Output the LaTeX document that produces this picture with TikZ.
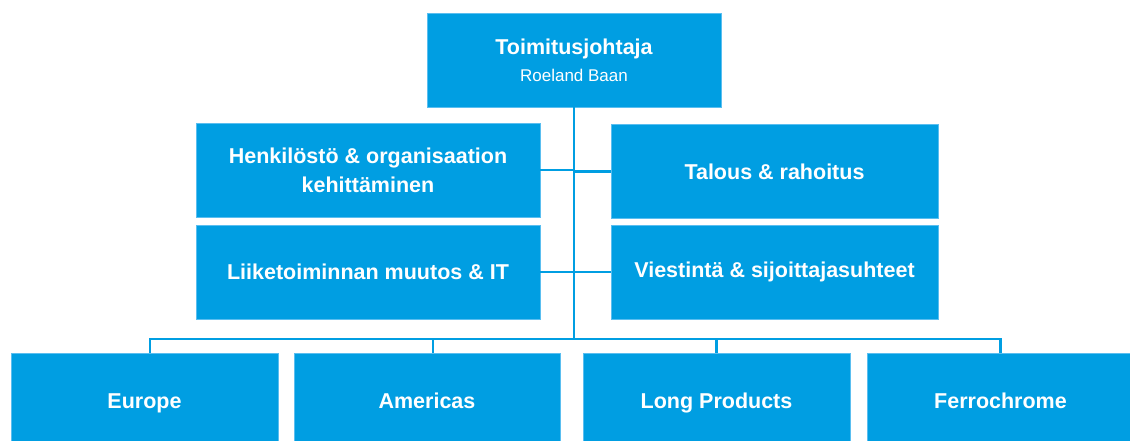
\documentclass[tikz,border=0pt]{standalone}
\usepackage{fontspec}
\setmainfont{Liberation Sans}
\definecolor{ssab}{RGB}{0,158,226}
\definecolor{ssabedge}{RGB}{90,190,240}
\begin{document}
\begin{tikzpicture}[x=1pt,y=-1pt,
  box/.style={fill=ssab, draw=ssabedge, line width=0.8pt, text=white, align=center, inner sep=0pt,
    font=\fontsize{21.5}{29}\selectfont\bfseries},
  unit/.style={box, minimum width=267pt, minimum height=106pt, text height=15pt, text depth=10pt},
  link/.style={draw=ssab, line width=2.8pt}]
\useasboundingbox (0,0) rectangle (1130,440);
\clip (0,0) rectangle (1130,440);
\node[box, minimum width=294pt, minimum height=94pt] (ceo) at (574,60)
  {Toimitusjohtaja\\[-2pt]{\fontsize{17}{22}\selectfont\mdseries Roeland Baan}};
\node[box, minimum width=344pt, minimum height=94pt] (hr) at (368,170)
  {Henkilöstö \& organisaation\\kehittäminen};
\node[box, minimum width=344pt, minimum height=94pt] (it) at (368,272)
  {Liiketoiminnan muutos \& IT};
\node[box, minimum width=327pt, minimum height=94pt] (fin) at (774.5,171.5)
  {Talous \& rahoitus};
\node[box, minimum width=327pt, minimum height=94pt] (com) at (774.5,272)
  {Viestintä \& sijoittajasuhteet};
\node[unit] (eu) at (144.5,406) {Europe};
\node[unit, minimum width=266pt] (am) at (427,406) {Americas};
\node[unit] (lp) at (716.5,406) {Long Products};
\node[unit] (fc) at (1000.5,406) {Ferrochrome};
\coordinate (busy) at (0,339);
\draw[link] (ceo.south) -- (ceo.south |- busy);
\draw[link] (hr.east) -- (hr.east -| ceo.south);
\draw[link] (it.east) -- (it.east -| ceo.south);
\draw[link] (fin.west) -- (fin.west -| ceo.south);
\draw[link] (com.west) -- (com.west -| ceo.south);
\draw[link] ([xshift=5.5pt]eu.north) |- (fc.north |- busy) -- (fc.north);
\draw[link] ([xshift=6pt]am.north) -- ([xshift=6pt]am.north |- busy);
\draw[link] (lp.north) -- (lp.north |- busy);
\end{tikzpicture}
\end{document}
